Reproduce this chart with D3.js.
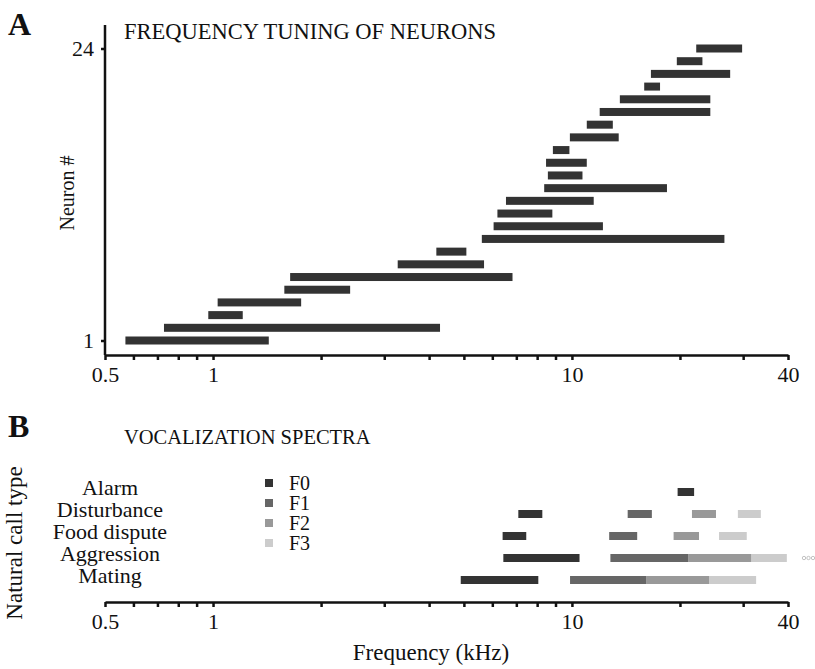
<!DOCTYPE html>
<html>
<head>
<meta charset="utf-8">
<script src="https://cdn.jsdelivr.net/npm/d3@7"></script>
<style>
  body { margin: 0; background: #fff; }
  svg text { font-family: "Liberation Serif", "Times New Roman", serif; fill: #111; }
</style>
</head>
<body>
<div id="chart"></div>
<script>
// Panel A: tuning range (kHz) of each neuron, neuron 1 first
const neurons = d3.range(1, 25);
const tuneLow  = [0.57, 0.73, 0.97, 1.03, 1.58, 1.64, 3.27, 4.19, 5.61, 6.05, 6.20, 6.55,
                  8.37, 8.57, 8.47, 8.85, 9.87, 11.0, 11.95, 13.6, 15.9, 16.6, 19.6, 22.2];
const tuneHigh = [1.43, 4.29, 1.21, 1.76, 2.41, 6.83, 5.69, 5.08, 26.6, 12.2, 8.82, 11.5,
                  18.4, 10.7, 11.0, 9.84, 13.5, 13.0, 24.3, 24.3, 17.6, 27.6, 23.1, 29.8];

// Panel B: formant bands (kHz) per call type, null = none
const callTypes = ["Alarm", "Disturbance", "Food dispute", "Aggression", "Mating"];
const formants = ["F0", "F1", "F2", "F3"];
const F0 = [[19.7, 21.9], [7.09, 8.27], [6.41, 7.46], [6.44, 10.5], [4.90, 8.06]];
const F1 = [null, [14.3, 16.7], [12.7, 15.2], [12.8, 21.1], [9.88, 16.1]];
const F2 = [null, [21.6, 25.2], [19.2, 22.6], [21.1, 31.6], [16.1, 24.1]];
const F3 = [null, [29.0, 33.6], [25.7, 30.7], [31.6, 39.7], [24.1, 32.6]];

// axis ticks
const majorTicks = [0.5, 1, 10, 40];
const minorTicks = [0.6, 0.7, 0.8, 0.9, 2, 3, 4, 5, 6, 7, 8, 9, 20, 30];
const neuronTicks = [1, 24];

const w = 815;
const h = 669;
const greys = ["#333333", "#666666", "#999999", "#cccccc"];

const svg = d3.select("#chart")
              .append("svg")
              .attr("width", w)
              .attr("height", h);

// shared log frequency scale
const xScale = d3.scaleLog()
  .domain([0.5, 40])
  .range([105, 788]);

function freqAxis(yPos) {
  const axis = d3.axisBottom(xScale)
    .tickValues(majorTicks.concat(minorTicks))
    .tickFormat((d) => majorTicks.includes(d) ? String(d) : "")
    .tickSize(5)
    .tickSizeOuter(0)
    .tickPadding(6);

  const g = svg.append("g")
     .attr("transform", "translate(0," + yPos + ")")
     .call(axis);
  g.select(".domain").attr("stroke", "#111").attr("stroke-width", 2.5);
  g.selectAll(".tick line").attr("stroke", "#111").attr("stroke-width", 2.5);
  g.selectAll(".tick text")
   .attr("font-size", 22)
   .attr("fill", "#111");
  return g;
}

// ---------- Panel A ----------
const yA = d3.scaleLinear()
  .domain([1, 24])
  .range([340.5, 48.5]);

svg.append("text")
   .attr("x", 8)
   .attr("y", 35)
   .attr("font-size", 32)
   .attr("font-weight", "bold")
   .text("A");

svg.append("text")
   .attr("x", 124)
   .attr("y", 39)
   .attr("font-size", 22.5)
   .text("FREQUENCY TUNING OF NEURONS");

svg.selectAll(".tuneBar")
   .data(neurons)
   .enter()
   .append("rect")
   .attr("class", "tuneBar")
   .attr("x", (d, i) => xScale(tuneLow[i]))
   .attr("y", (d) => yA(d) - 4)
   .attr("width", (d, i) => xScale(tuneHigh[i]) - xScale(tuneLow[i]))
   .attr("height", 8)
   .attr("fill", greys[0]);

freqAxis(355);

// y axis
const yAxisA = d3.axisLeft(yA)
  .tickValues(neuronTicks)
  .tickSize(4)
  .tickPadding(7);
const gy = svg.append("g")
   .attr("transform", "translate(105,0)")
   .call(yAxisA);
gy.select(".domain").remove();
gy.selectAll(".tick line").attr("stroke", "#111").attr("stroke-width", 2.5);
gy.selectAll(".tick text")
  .attr("font-size", 22)
  .attr("fill", "#111");
svg.append("line")
   .attr("x1", 105).attr("x2", 105)
   .attr("y1", 25).attr("y2", 355)
   .attr("stroke", "#111")
   .attr("stroke-width", 2.5);

svg.append("text")
   .attr("transform", "translate(74,193) rotate(-90)")
   .attr("text-anchor", "middle")
   .attr("font-size", 20)
   .text("Neuron #");

// ---------- Panel B ----------
const yB = d3.scalePoint()
  .domain(callTypes)
  .range([492, 580]);

svg.append("text")
   .attr("x", 8)
   .attr("y", 437)
   .attr("font-size", 32)
   .attr("font-weight", "bold")
   .text("B");

svg.append("text")
   .attr("x", 124)
   .attr("y", 444)
   .attr("font-size", 20.5)
   .text("VOCALIZATION SPECTRA");

svg.selectAll(".callLabel")
   .data(callTypes)
   .enter()
   .append("text")
   .attr("class", "callLabel")
   .attr("x", 110)
   .attr("y", (d) => yB(d) + 3)
   .attr("text-anchor", "middle")
   .attr("font-size", 22)
   .text((d) => d);

// formant bands, drawn F3 first so lower formants sit on top
const bands = [];
[F0, F1, F2, F3].forEach(function(series, k) {
  series.forEach(function(b, i) {
    if (b) bands.push({call: callTypes[i], k: k, lo: b[0], hi: b[1]});
  });
});
bands.sort((a, b) => b.k - a.k);

svg.selectAll(".band")
   .data(bands)
   .enter()
   .append("rect")
   .attr("class", "band")
   .attr("x", (d) => xScale(d.lo))
   .attr("y", (d) => yB(d.call) - 4)
   .attr("width", (d) => xScale(d.hi) - xScale(d.lo))
   .attr("height", 8)
   .attr("fill", (d) => greys[d.k]);

// continuation marks after aggression
svg.selectAll(".more")
   .data([0, 1, 2])
   .enter()
   .append("circle")
   .attr("class", "more")
   .attr("cx", (d) => xScale(40) + 16 + d * 4.5)
   .attr("cy", yB("Aggression"))
   .attr("r", 1.7)
   .attr("fill", "none")
   .attr("stroke", "#bbbbbb")
   .attr("stroke-width", 0.9);

// legend
const yLeg = d3.scalePoint()
  .domain(formants)
  .range([483, 543]);

svg.selectAll(".legKey")
   .data(formants)
   .enter()
   .append("rect")
   .attr("class", "legKey")
   .attr("x", 265)
   .attr("y", (d) => yLeg(d) - 4)
   .attr("width", 8)
   .attr("height", 8)
   .attr("fill", (d, i) => greys[i]);

svg.selectAll(".legText")
   .data(formants)
   .enter()
   .append("text")
   .attr("class", "legText")
   .attr("x", 289)
   .attr("y", (d) => yLeg(d) + 7)
   .attr("font-size", 20)
   .text((d) => d);

freqAxis(602);

svg.append("text")
   .attr("transform", "translate(22,543) rotate(-90)")
   .attr("text-anchor", "middle")
   .attr("font-size", 23)
   .text("Natural call type");

svg.append("text")
   .attr("x", 431)
   .attr("y", 660)
   .attr("text-anchor", "middle")
   .attr("font-size", 23)
   .text("Frequency (kHz)");
</script>
</body>
</html>
